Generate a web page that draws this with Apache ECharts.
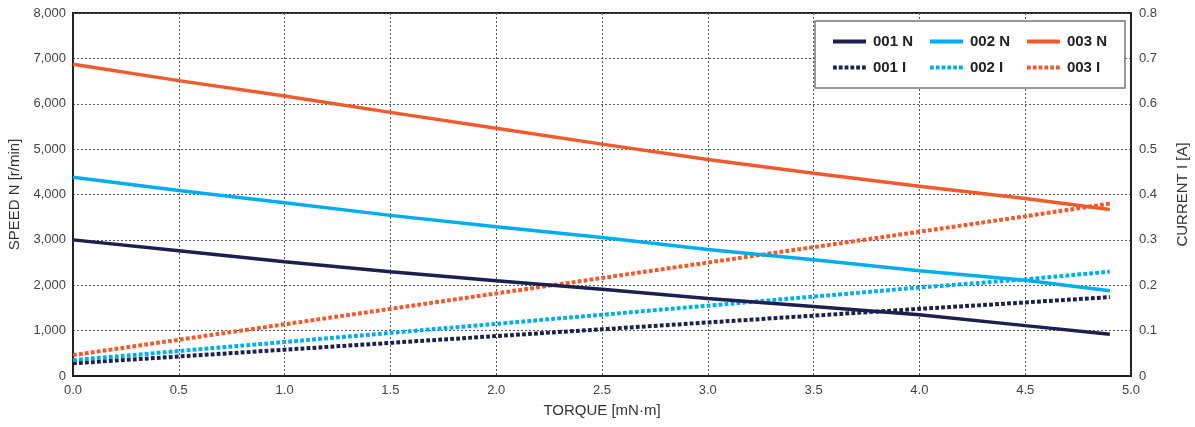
<!DOCTYPE html>
<html><head><meta charset="utf-8">
<script src="https://cdn.jsdelivr.net/npm/echarts@6/dist/echarts.min.js"></script>
<style>html,body{margin:0;padding:0;background:#fff}#c{width:1195px;height:427px}</style>
</head><body><div id="c"></div>
<script>
const torque = [0, 0.5, 1.0, 1.5, 2.0, 2.5, 3.0, 3.5, 4.0, 4.5, 4.9];
const n001 = [3000, 2760, 2520, 2300, 2100, 1910, 1710, 1530, 1350, 1110, 920];
const n002 = [4380, 4090, 3820, 3540, 3290, 3050, 2790, 2560, 2320, 2110, 1880];
const n003 = [6870, 6510, 6170, 5810, 5460, 5110, 4770, 4470, 4180, 3910, 3670];
const i001 = [0.028, 0.043, 0.058, 0.073, 0.088, 0.103, 0.118, 0.133, 0.148, 0.162, 0.174];
const i002 = [0.035, 0.055, 0.075, 0.095, 0.115, 0.135, 0.155, 0.175, 0.195, 0.213, 0.230];
const i003 = [0.046, 0.080, 0.114, 0.148, 0.182, 0.216, 0.250, 0.284, 0.318, 0.352, 0.380];
const names = ['001 N', '002 N', '003 N', '001 I', '002 I', '003 I'];
const colors = ['#1d1f4f', '#00aeef', '#f15a2b'];

const pairs = arr => torque.map((t, i) => [t, arr[i]]);
const FONT = 'Liberation Sans, Arial, sans-serif';
const SOLID_ICON = 'path://M0,0H33V4H0Z';
let dots = '';
for (let k = 0; k < 6; k++) { const x0 = k * 5.8; dots += 'M' + x0 + ',0H' + (x0 + 3.8) + 'V4H' + x0 + 'Z'; }
const DOT_ICON = 'path://' + dots;

function mk(name, arr, color, dotted) {
  return {
    name, type: 'line', data: pairs(arr), yAxisIndex: dotted ? 1 : 0,
    symbol: 'none', showSymbol: false, smooth: false, z: dotted ? 3 : 4,
    lineStyle: { color, width: dotted ? 4 : 3.5, type: dotted ? [3.8, 2.2] : 'solid', cap: 'butt' },
    itemStyle: { color }
  };
}
const colLeft = [833, 930, 1027];
const rowTop = [34, 60];
const legends = names.map((n, i) => ({
  data: [{ name: n, icon: i < 3 ? SOLID_ICON : DOT_ICON }],
  left: colLeft[i % 3], top: rowTop[Math.floor(i / 3)], z: 20,
  itemWidth: 33, itemHeight: 4, padding: 0,
  textStyle: { fontFamily: FONT, fontSize: 15, fontWeight: 'bold', color: '#222', padding: [0, 0, 0, 2] },
  selectedMode: false
}));
const chart = echarts.init(document.getElementById('c'), null, { renderer: 'canvas' });
chart.setOption({
  animation: false,
  backgroundColor: '#fff',
  grid: { left: 73, right: 64, top: 13, bottom: 51, show: true, borderColor: '#222', borderWidth: 2, containLabel: false, outerBoundsMode: 'none' },
  graphic: [{ type: 'rect', shape: { x: 815, y: 21, width: 310, height: 67 }, style: { fill: '#fff', stroke: '#777', lineWidth: 1.5 }, z: 10 }],
  legend: legends,
  xAxis: {
    type: 'value', min: 0, max: 5, interval: 0.5,
    name: 'TORQUE [mN·m]', nameLocation: 'middle', nameGap: 27,
    nameTextStyle: { fontFamily: FONT, fontSize: 15, color: '#333' },
    axisLine: { show: true, lineStyle: { color: '#222', width: 2 } },
    axisTick: { show: false },
    axisLabel: { fontFamily: FONT, fontSize: 13, color: '#444', margin: 8, formatter: v => v.toFixed(1) },
    splitLine: { show: true, lineStyle: { color: '#555', type: [2, 2], width: 1 } }
  },
  yAxis: [{
    type: 'value', min: 0, max: 8000, interval: 1000,
    name: 'SPEED N [r/min]', nameLocation: 'middle', nameGap: 48, nameRotate: 90,
    nameTextStyle: { fontFamily: FONT, fontSize: 15, color: '#333' },
    axisLine: { show: true, lineStyle: { color: '#222', width: 2 } },
    axisTick: { show: false },
    axisLabel: { fontFamily: FONT, fontSize: 13, color: '#444', margin: 7, formatter: v => v.toLocaleString('en-US') },
    splitLine: { show: true, lineStyle: { color: '#555', type: [2, 2], width: 1 } }
  }, {
    type: 'value', min: 0, max: 0.8, interval: 0.1, position: 'right',
    name: 'CURRENT I [A]', nameLocation: 'middle', nameGap: 44, nameRotate: 90,
    nameTextStyle: { fontFamily: FONT, fontSize: 15, color: '#333' },
    axisLine: { show: true, lineStyle: { color: '#222', width: 2 } },
    axisTick: { show: false },
    axisLabel: { fontFamily: FONT, fontSize: 13, color: '#444', margin: 8, formatter: v => v === 0 ? '0' : v.toFixed(1) },
    splitLine: { show: false }
  }],
  series: [
    mk('001 N', n001, colors[0], false),
    mk('002 N', n002, colors[1], false),
    mk('003 N', n003, colors[2], false),
    mk('001 I', i001, colors[0], true),
    mk('002 I', i002, colors[1], true),
    mk('003 I', i003, colors[2], true)
  ]
});
</script></body></html>
